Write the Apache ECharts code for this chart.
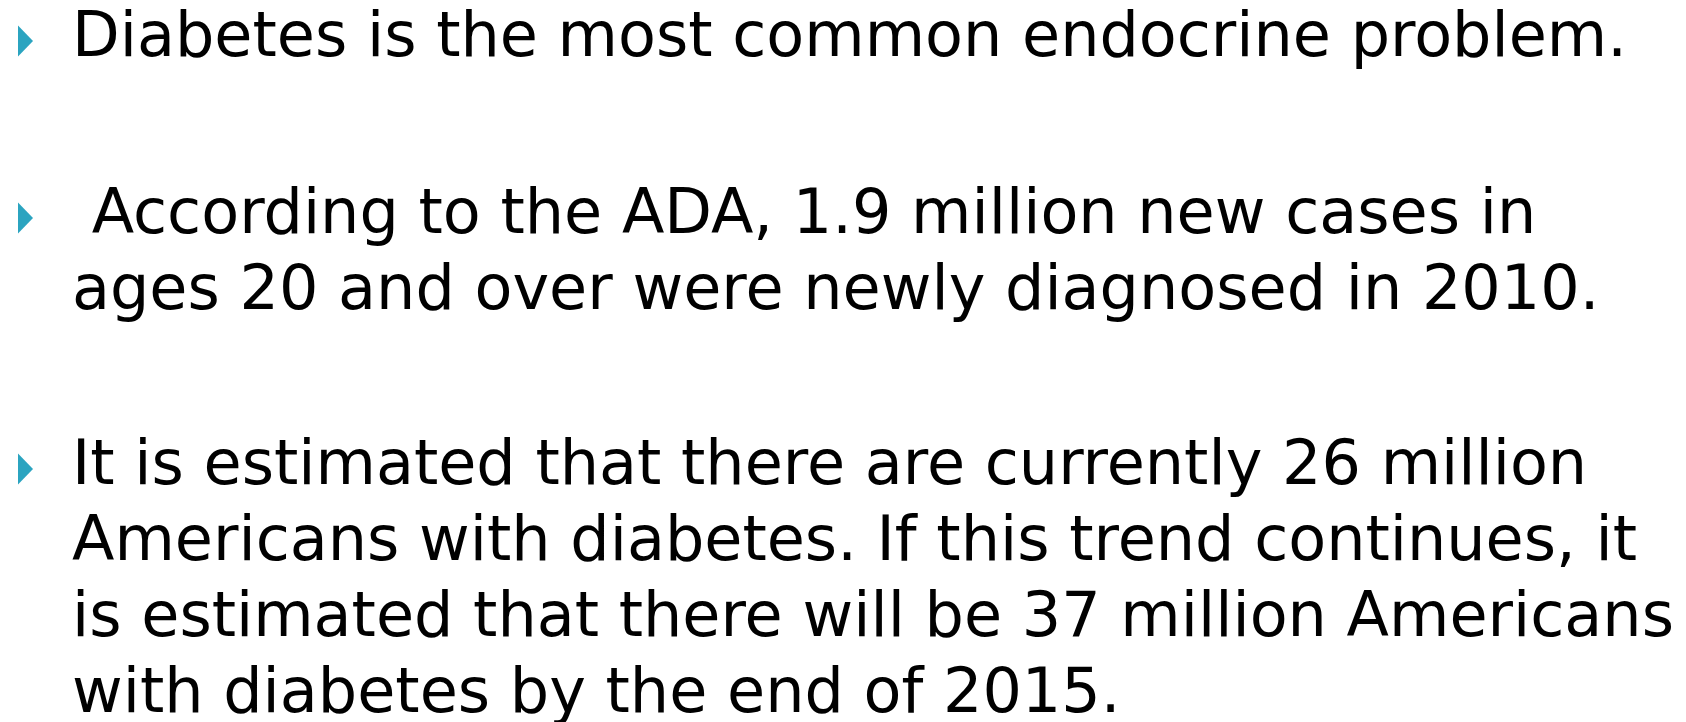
<!DOCTYPE html>
<html>
<head>
<meta charset="utf-8">
<script src="https://cdn.jsdelivr.net/npm/echarts@6/dist/echarts.min.js"></script>
<style>
html,body{margin:0;padding:0;background:#fff;}
#main{width:1686px;height:722px;}
</style>
</head>
<body>
<div id="main"></div>
<script>
// 每个要点的文字行
var point1 = ["Diabetes is the most common endocrine problem."];
var point2 = [" According to the ADA, 1.9 million new cases in",
              "ages 20 and over were newly diagnosed in 2010."];
var point3 = ["It is estimated that there are currently 26 million",
              "Americans with diabetes. If this trend continues, it",
              "is estimated that there will be 37 million Americans",
              "with diabetes by the end of 2015."];
var points = [point1, point2, point3];
var baseY = [56, 233, 484]; // 每个要点第一行的基线

var fontSize = 62;
var lineGap = 76;
var textX = 72;
var descent = 15; // 字体下沉，bottom对齐时补回

var myChart = echarts.init(document.getElementById("main"));

var elements = [];
$each(points, function (i, lines) {
    //三角形小图标
    var cy = baseY[i] - 15;
    elements.push({
        type: "polygon",
        shape: {points: [[18, cy - 15.5], [33, cy], [18, cy + 15.5]]},
        style: {fill: "#2ba4c0"}
    });
    $each(lines, function (j, line) {
        elements.push({
            type: "text",
            x: textX,
            y: baseY[i] + j * lineGap + descent,
            style: {
                text: line,
                fill: "#000",
                font: fontSize + "px 'DejaVu Sans'",
                verticalAlign: "bottom"
            }
        });
    });
});

function $each(arr, fn) {
    for (var k = 0; k < arr.length; k++) { fn(k, arr[k]); }
}

myChart.setOption({
    backgroundColor: "#fff",
    graphic: {elements: elements}
});
</script>
</body>
</html>
